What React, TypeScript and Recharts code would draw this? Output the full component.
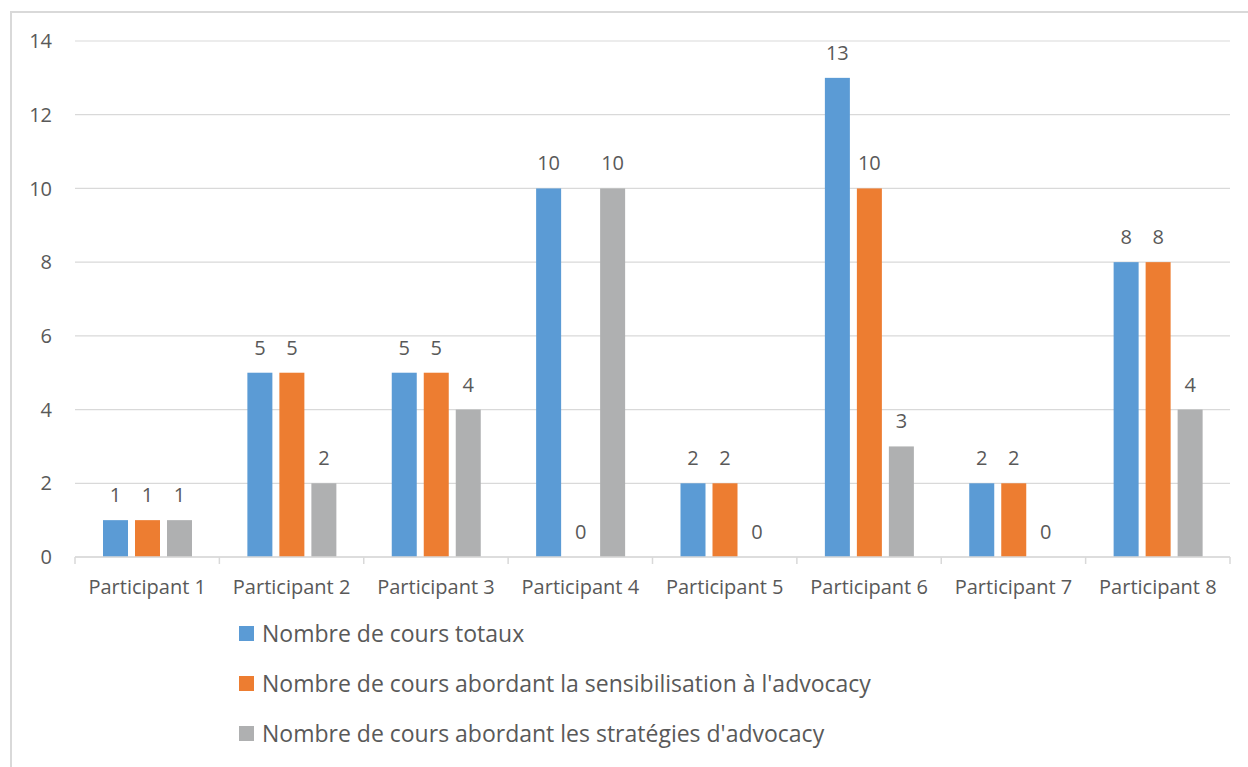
import React from "react";
import { BarChart, Bar, XAxis, YAxis, CartesianGrid, Legend } from "recharts";

const participants = [
  "Participant 1", "Participant 2", "Participant 3", "Participant 4",
  "Participant 5", "Participant 6", "Participant 7", "Participant 8",
];
const totaux = [1, 5, 5, 10, 2, 13, 2, 8];
const sensibilisation = [1, 5, 5, 0, 2, 10, 2, 8];
const strategies = [1, 2, 4, 10, 0, 3, 0, 4];
const yTicks = [0, 2, 4, 6, 8, 10, 12, 14];

const series = [
  { key: "totaux", name: "Nombre de cours totaux", color: "#5B9BD5" },
  { key: "sensibilisation", name: "Nombre de cours abordant la sensibilisation à l'advocacy", color: "#ED7D31" },
  { key: "strategies", name: "Nombre de cours abordant les stratégies d'advocacy", color: "#AFB0B1" },
];

const data = participants.map((p, i) => ({
  name: p,
  totaux: totaux[i],
  sensibilisation: sensibilisation[i],
  strategies: strategies[i],
}));

const TEXT = "#595959";
const GRID = "#D9D9D9";
const FONT = "'Open Sans', sans-serif";

function CategoryTick(props: any) {
  const { x, y, payload, index } = props;
  const half = payload && payload.offset ? payload.offset : (1230 - 75) / participants.length / 2;
  return (
    <g>
      <line x1={x - half} y1={y} x2={x - half} y2={y + 7} stroke={GRID} strokeWidth={1.5} />
      {index === participants.length - 1 && (
        <line x1={x + half} y1={y} x2={x + half} y2={y + 7} stroke={GRID} strokeWidth={1.5} />
      )}
      <text x={x} y={y + 37} textAnchor="middle" fill={TEXT} fontSize={20} fontFamily={FONT}>
        {payload.value}
      </text>
    </g>
  );
}

// bar + its value above it; zero bars still get their "0" label, like in Excel
function makeBarShape(key: string, color: string) {
  return (props: any) => {
    const { x, y, width, height, payload } = props;
    const v = payload[key];
    const top = Math.min(y, y + height);
    const h = v === 0 ? 0 : Math.abs(height);
    return (
      <g>
        {h > 0 && <rect x={x} y={top} width={width} height={h} fill={color} />}
        <text x={x + width / 2} y={top - 18} textAnchor="middle" fill={TEXT} fontSize={20} fontFamily={FONT}>
          {String(v)}
        </text>
      </g>
    );
  };
}

function VerticalLegend() {
  return (
    <div style={{ fontFamily: FONT }}>
      {series.map((s) => (
        <div key={s.key} style={{ height: 50, display: "flex", alignItems: "center" }}>
          <span style={{ width: 15, height: 15, background: s.color, display: "inline-block", marginRight: 8 }} />
          <span style={{ fontSize: 23, color: TEXT, whiteSpace: "nowrap" }}>{s.name}</span>
        </div>
      ))}
    </div>
  );
}

export default function App() {
  return (
    <div style={{ position: "absolute", left: 0, top: 0, width: 1248, height: 767, overflow: "hidden", background: "#fff" }}>
      <div
        style={{
          position: "absolute", left: 10, top: 11, width: 1400, height: 900,
          borderLeft: `2px solid ${GRID}`, borderTop: `2px solid ${GRID}`,
        }}
      />
      <BarChart
        width={1248}
        height={767}
        data={data}
        margin={{ top: 41, right: 18, left: 0, bottom: 170 }}
        barCategoryGap={28}
        barGap={7}
        style={{ fontFamily: FONT }}
      >
        <CartesianGrid vertical={false} stroke={GRID} strokeWidth={1.2} />
        <XAxis
          dataKey="name"
          height={40}
          axisLine={{ stroke: GRID, strokeWidth: 1.5 }}
          tickLine={false}
          tickSize={0}
          tickMargin={0}
          tick={<CategoryTick />}
          interval={0}
        />
        <YAxis
          width={75}
          domain={[0, 14]}
          ticks={yTicks}
          axisLine={false}
          tickLine={false}
          tickSize={0}
          tickMargin={23}
          tick={{ fill: TEXT, fontSize: 20, fontFamily: FONT }}
        />
        <Legend
          layout="horizontal"
          verticalAlign="middle"
          align="center"
          wrapperStyle={{ left: 239, top: 608, width: 800 }}
          content={<VerticalLegend />}
        />
        {series.map((s) => (
          <Bar
            key={s.key}
            dataKey={s.key}
            name={s.name}
            fill={s.color}
            minPointSize={0.01}
            shape={makeBarShape(s.key, s.color)}
            isAnimationActive={false}
          />
        ))}
      </BarChart>
    </div>
  );
}
